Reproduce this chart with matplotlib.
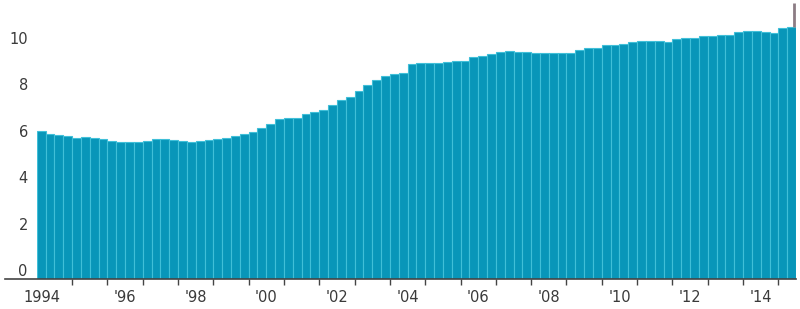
import matplotlib
matplotlib.use("Agg")
import matplotlib.pyplot as plt
import numpy as np

# Quarterly values, 1994 Q1 .. 2015 Q2
values_by_year = {
    1994: [6.39, 6.25, 6.20, 6.16],
    1995: [6.08, 6.13, 6.10, 6.03],
    1996: [5.95, 5.92, 5.92, 5.92],
    1997: [5.95, 6.03, 6.03, 6.00],
    1998: [5.95, 5.92, 5.95, 6.00],
    1999: [6.05, 6.10, 6.15, 6.25],
    2000: [6.35, 6.50, 6.70, 6.90],
    2001: [6.92, 6.92, 7.10, 7.20],
    2002: [7.30, 7.50, 7.70, 7.85],
    2003: [8.10, 8.35, 8.60, 8.75],
    2004: [8.85, 8.90, 9.25, 9.30],
    2005: [9.30, 9.30, 9.35, 9.40],
    2006: [9.40, 9.55, 9.60, 9.70],
    2007: [9.80, 9.82, 9.80, 9.78],
    2008: [9.73, 9.73, 9.73, 9.73],
    2009: [9.75, 9.85, 9.94, 9.95],
    2010: [10.09, 10.10, 10.12, 10.22],
    2011: [10.26, 10.26, 10.26, 10.20],
    2012: [10.35, 10.37, 10.40, 10.47],
    2013: [10.49, 10.50, 10.50, 10.65],
    2014: [10.69, 10.69, 10.65, 10.60],
    2015: [10.83, 10.85],
}
years = list(values_by_year.keys())
values = [v for y in years for v in values_by_year[y]]
quarter_pos = [y + 0.25 * q + 0.125 for y in years for q in range(len(values_by_year[y]))]

y_ticks = [0, 2, 4, 6, 8, 10, 12]
x_tick_years = [1994, 1996, 1998, 2000, 2002, 2004, 2006, 2008, 2010, 2012, 2014]
x_tick_labels = ["1994", "'96", "'98", "'00", "'02", "'04", "'06", "'08", "'10", "'12", "'14"]
marker_top = 11.9

fig = plt.figure(figsize=(8, 3.09), dpi=100)
ax = fig.add_axes([0.046, 0.097, 0.949, 0.901])

ax.bar(quarter_pos, values, width=0.25, color="#0896b9", edgecolor="#40bfd8",
       linewidth=0.8, zorder=2)

# end marker line above the last bar
ax.plot([quarter_pos[-1] + 0.06] * 2, [values[-1], marker_top], color="#8c7c84",
        linewidth=2, solid_capstyle="butt", zorder=3)

ax.set_xlim(1994, 1994 + 0.25 * len(values))
ax.set_ylim(0, 12)

for s in ax.spines.values():
    s.set_visible(False)
ax.set_yticks([])
ax.set_xticks(range(1995, 2016))
ax.tick_params(axis="x", length=4, width=1, color="#444444", labelbottom=False,
               direction="out")

# baseline extending left under y labels
ax.plot([-0.042, 1.0], [0, 0], transform=ax.transAxes,
        color="#444444", linewidth=1.2, clip_on=False, zorder=4)

txt_color = "#3a3a3a"
for yt in y_ticks:
    ax.annotate(str(yt), xy=(0, yt), xycoords=("axes fraction", "data"),
                xytext=(-6.5, 0), textcoords="offset points", ha="right", va="bottom",
                fontsize=10.5, color=txt_color, annotation_clip=False)

for yr, lab in zip(x_tick_years, x_tick_labels):
    xpos = yr + 0.5 if yr != 1994 else 1994.15
    ax.annotate(lab, xy=(xpos, 0), xycoords=("data", "axes fraction"),
                xytext=(0, -19), textcoords="offset points", ha="center", va="bottom",
                fontsize=10.5, color=txt_color, annotation_clip=False)

fig.savefig("out.png", dpi=100)
